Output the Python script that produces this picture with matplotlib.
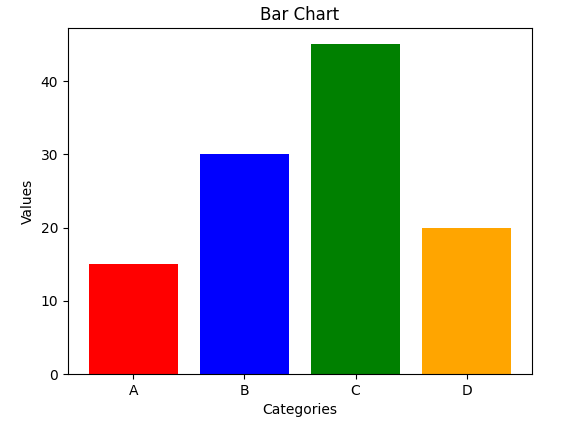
import matplotlib
matplotlib.use("Agg")
import matplotlib.pyplot as plt

categories = ["A", "B", "C", "D"]
values = [15, 30, 45, 20]
colors = ["red", "blue", "green", "orange"]

fig = plt.figure(figsize=(5.79, 4.24), dpi=100)
ax = fig.add_axes([68 / 579, 1 - 374 / 424, (532 - 68) / 579, (374 - 28) / 424])
ax.bar(categories, values, color=colors)
ax.set_xlabel("Categories")
ax.set_ylabel("Values")
ax.set_title("Bar Chart")
fig.savefig("out.png", dpi=100)
